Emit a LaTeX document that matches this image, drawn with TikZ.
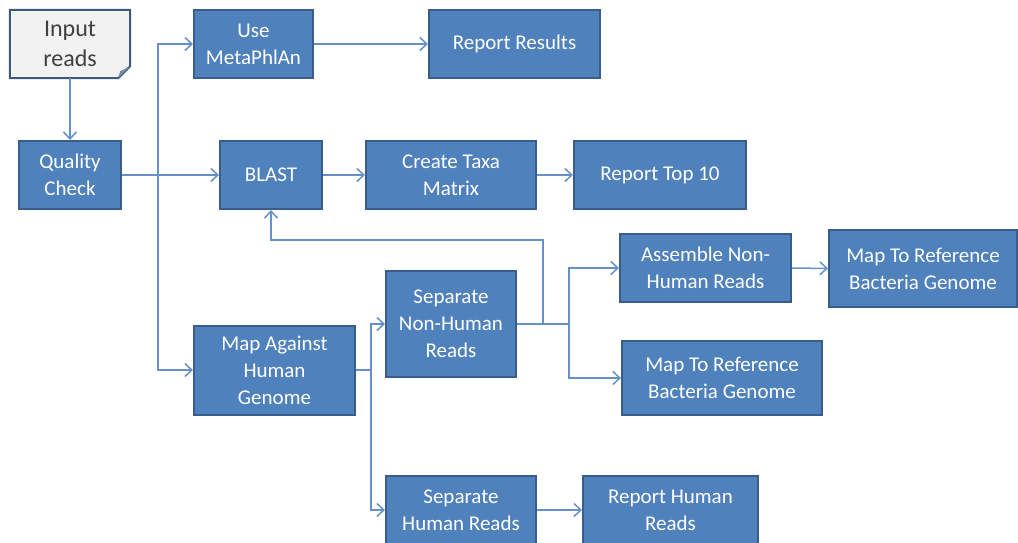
\documentclass[tikz,border=0pt]{standalone}
\usepackage{fontspec}
\setmainfont{Carlito}
\usepackage{tikz}
\usetikzlibrary{arrows.meta}
\usetikzlibrary{calc}
\usetikzlibrary{backgrounds}
\definecolor{procfill}{HTML}{4F81BD}
\definecolor{procdraw}{HTML}{385D8A}
\definecolor{linkcol}{HTML}{6590CC}
\definecolor{docfill}{HTML}{F2F2F2}
\definecolor{docdraw}{HTML}{3C5A7D}

\begin{document}
\begin{tikzpicture}[x=1pt,y=-1pt,
  dep/.style ={
    -{Straight Barb[length=7pt,width=13pt]},line width=1.5pt,draw=linkcol
  },
  lnk/.style ={
    line width=1.5pt,draw=linkcol
  },
  proc/.style 2 args={
    rectangle,
    draw=procdraw,
    fill=procfill,
    line width=2pt,
    text=white,
    align=center,
    inner sep=0pt,
    minimum width=#1,
    minimum height=#2,
    font=\fontsize{21}{27}\selectfont},
  doc/.style 2 args={
    rectangle,
    text=black!75,
    align=center,
    inner sep=0pt,
    minimum width=#1,
    minimum height=#2,
    font=\fontsize{24}{30}\selectfont},
]

  \useasboundingbox (0,0) rectangle (1018,542);

  \def\rowa{44}%
  \def\rowb{175}%
  \def\boxh{68pt}%

    % Input and quality check
  \node[doc={120pt}{\boxh}] (input) at (70,\rowa) {Input\\reads};
  \begin{scope}[on background layer]
    \draw[draw=docdraw,fill=docfill,line width=2pt]
        (input.north west) -- (input.north east) --
        ($(input.south east)+(0,-12)$) --
        ($(input.south east)+(-12,0)$) --
        (input.south west) -- cycle;
  \end{scope}
  \fill[docdraw!70] ($(input.south east)+(0,-12)$) -- ($(input.south east)+(-10,-7)$)
        -- ($(input.south east)+(-12,0)$) -- cycle;

  \node[proc={102pt}{\boxh}] (qc) at (70,\rowb) {Quality\\Check};

    % Top rows
  \node[proc={119pt}{\boxh}] (meta) at (253.5,\rowa) {Use\\MetaPhlAn};
  \node[proc={171pt}{\boxh}] (report) at (514.5,\rowa) {Report Results};

  \node[proc={102pt}{\boxh}] (blast) at (271,\rowb) {BLAST};
  \node[proc={170pt}{\boxh}] (taxa) at (451,\rowb) {Create Taxa\\Matrix};
  \node[proc={172pt}{\boxh}] (top10) at (660,\rowb) {Report Top 10};

    % Human genome branch
  \node[proc={161pt}{89pt}] (mapag) at (274.5,370) {Map Against\\Human\\Genome};
  \node[proc={130pt}{106pt}] (sepnon) at (451,324) {Separate\\Non-Human\\Reads};
  \node[proc={150pt}{\boxh}] (sephum) at (461,510) {Separate\\Human Reads};
  \node[proc={175pt}{\boxh}] (rephum) at (670.5,510) {Report Human\\Reads};

  \node[proc={171pt}{\boxh}] (assemble) at (705.5,268) {Assemble Non-\\Human Reads};
  \node[proc={188pt}{77pt}] (mapref1) at (923,268.5) {Map To Reference\\Bacteria Genome};
  \node[proc={200pt}{74pt}] (mapref2) at (722,378) {Map To Reference\\Bacteria Genome};

    % Connectors
  \draw[dep] (input.south) to (qc.north);

  \coordinate (splitqc) at (158,\rowb);
  \draw[lnk] (qc.east) to (splitqc);
  \draw[dep] (splitqc) to (blast.west);
  \draw[dep] (splitqc) |- (meta.west);
  \draw[dep] (splitqc) |- (mapag.west);

  \draw[dep] (meta) to (report);
  \draw[dep] (blast) to (taxa);
  \draw[dep] (taxa) to (top10);

  \coordinate (splitmap) at (371,370);
  \draw[lnk] (mapag.east) to (splitmap);
  \draw[dep] (splitmap) |- (sepnon.west);
  \draw[dep] (splitmap) |- (sephum.west);
  \draw[dep] (sephum) to (rephum);

  \coordinate (splitsep) at (569,324);
  \coordinate (backblast) at (543,240);
  \draw[lnk] (sepnon.east) to (splitsep);
  \draw[dep] (sepnon.east -| backblast) -- (backblast) -| (blast.south);
  \draw[dep] (splitsep) |- (assemble.west);
  \draw[dep] (splitsep) |- (mapref2.west);
  \draw[dep] (assemble) to (mapref1);

\end{tikzpicture}
\end{document}
